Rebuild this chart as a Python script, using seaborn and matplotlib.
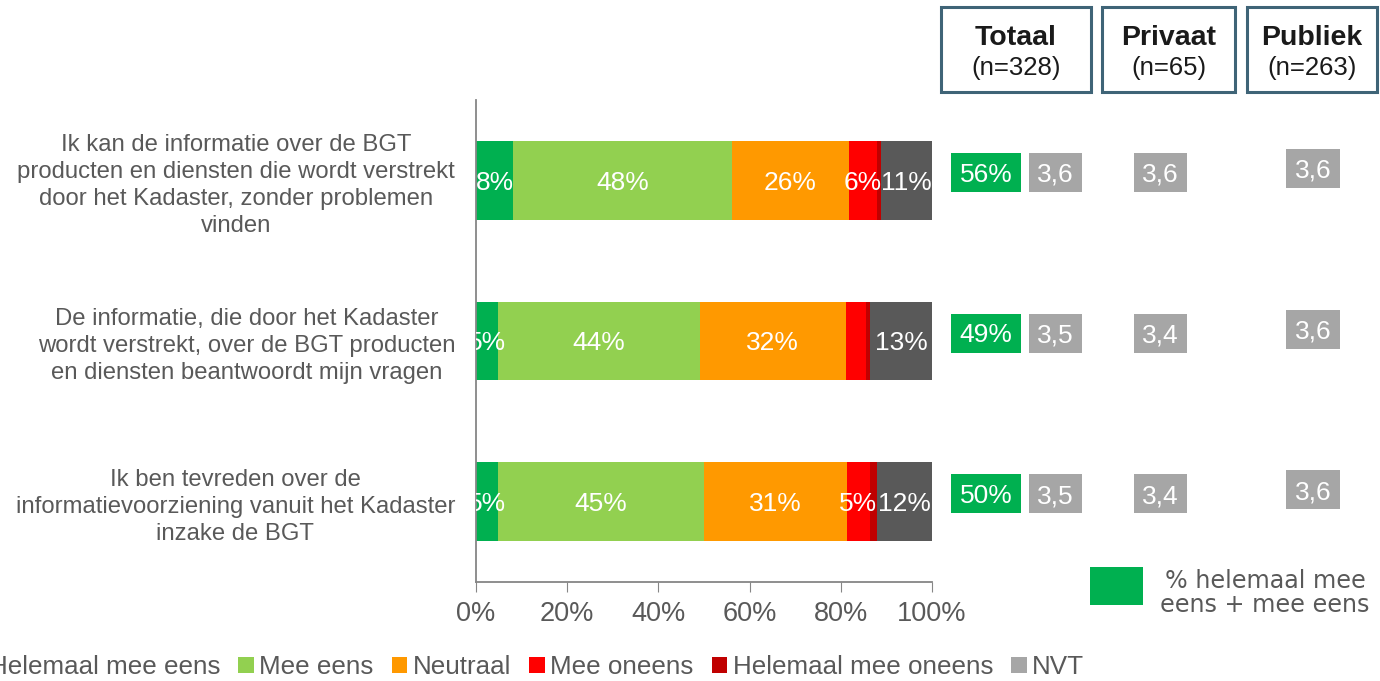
import numpy as np
import seaborn as sns
import matplotlib.pyplot as plt
from matplotlib.patches import Patch, Rectangle
from matplotlib.transforms import blended_transform_factory

# Data.
questions = [
    'Ik kan de informatie over de BGT\nproducten en diensten die wordt verstrekt\n'
    'door het Kadaster, zonder problemen\nvinden',
    'De informatie, die door het Kadaster\nwordt verstrekt, over de BGT producten\n'
    'en diensten beantwoordt mijn vragen',
    'Ik ben tevreden over de\ninformatievoorziening vanuit het Kadaster\ninzake de BGT',
]
segments = ['Helemaal mee eens', 'Mee eens', 'Neutraal', 'Mee oneens',
            'Helemaal mee oneens', 'NVT']
helemaal_mee_eens = [8.2, 4.9, 4.9]
mee_eens = [47.9, 44.2, 45.1]
neutraal = [25.6, 32.0, 31.3]
mee_oneens = [6.3, 4.4, 5.0]
helemaal_mee_oneens = [0.8, 1.0, 1.7]
nvt = [11.2, 13.5, 12.0]
segment_labels = [
    ['8%', '5%', '5%'],
    ['48%', '44%', '45%'],
    ['26%', '32%', '31%'],
    ['6%', '', '5%'],
    ['', '', ''],
    ['11%', '13%', '12%'],
]
pct_agree = [56, 49, 50]
score_totaal = [3.6, 3.5, 3.5]
score_privaat = [3.6, 3.4, 3.4]
score_publiek = [3.6, 3.6, 3.6]
groups = ['Totaal', 'Privaat', 'Publiek']
group_n = [328, 65, 263]

bar_colors = ['#00B050', '#92D050', '#FF9900', '#FF0000', '#C00000', '#595959']
legend_colors = ['#00B050', '#92D050', '#FF9900', '#FF0000', '#C00000', '#A6A6A6']
TEXT = '#595959'
AXIS = '#868686'
W, H = 1380, 681

sns.set_style('white')
plt.rcParams['font.family'] = ['Liberation Sans', 'DejaVu Sans']

fig = plt.figure(figsize=(W / 100, H / 100), dpi=100)
ax = fig.add_axes([476 / W, 1 - 582 / H, 456 / W, 482 / H])

# Stacked bars: draw cumulative totals from the back to the front.
values = np.array([helemaal_mee_eens, mee_eens, neutraal, mee_oneens,
                   helemaal_mee_oneens, nvt])
cum = np.cumsum(values, axis=0)
for i in range(len(segments) - 1, -1, -1):
    sns.barplot(x=cum[i], y=questions, orient='y', color=bar_colors[i],
                saturation=1, width=0.49, linewidth=0, ax=ax)

for i in range(len(segments)):
    for j in range(len(questions)):
        if segment_labels[i][j]:
            ax.text(cum[i][j] - values[i][j] / 2, j, segment_labels[i][j],
                    ha='center', va='center_baseline', color='white',
                    fontsize=19, clip_on=True)

ax.set_xlim(0, 100)
ax.set_ylim(2.5, -0.5)
ax.set_xticks(range(0, 101, 20))
ax.set_xticklabels([f'{v}%' for v in range(0, 101, 20)])
ax.set_xlabel('')
ax.set_ylabel('')
ax.set_yticks(np.arange(-0.5, 3, 1), minor=True)
ax.tick_params(axis='y', which='major', length=0, pad=15, labelsize=17.2,
               labelcolor=TEXT)
ax.tick_params(axis='y', which='minor', length=7, color=AXIS, width=1)
ax.tick_params(axis='x', length=7, color=AXIS, labelsize=19.5,
               labelcolor=TEXT, pad=7, bottom=True)
for lbl in ax.get_yticklabels():
    lbl.set_multialignment('center')
    lbl.set_linespacing(1.3)
for side in ['top', 'right']:
    ax.spines[side].set_visible(False)
for side in ['left', 'bottom']:
    ax.spines[side].set_color(AXIS)
    ax.spines[side].set_linewidth(1.3)

# Score boxes to the right, one row per question.
trans = blended_transform_factory(fig.transFigure, ax.transData)
row_px = 482 / 3
box_h = 39 / row_px
columns = [
    (951, 70, '#00B050', [f'{v}%' for v in pct_agree], 8),
    (1029, 53, '#A6A6A6', [f'{v:.1f}'.replace('.', ',') for v in score_totaal], 8),
    (1134, 53, '#A6A6A6', [f'{v:.1f}'.replace('.', ',') for v in score_privaat], 8),
    (1286, 54, '#A6A6A6', [f'{v:.1f}'.replace('.', ',') for v in score_publiek], 12),
]
for x0, w, col, texts, off in columns:
    for j, t in enumerate(texts):
        yc = j - off / row_px
        ax.add_patch(Rectangle((x0 / W, yc - box_h / 2), w / W, box_h,
                               transform=trans, facecolor=col,
                               edgecolor='none', clip_on=False))
        ax.text((x0 + w / 2) / W, yc, t, transform=trans, ha='center',
                va='center_baseline', color='white', fontsize=19)

# Group headers.
header_boxes = [(941, 150), (1102, 133), (1247, 130)]
for (x0, w), g, n in zip(header_boxes, groups, group_n):
    fig.add_artist(Rectangle((x0 / W, 1 - 92 / H), w / W, 85 / H,
                             transform=fig.transFigure, facecolor='white',
                             edgecolor='#3F6477', linewidth=2.2))
    fig.text((x0 + w / 2) / W, 1 - 35 / H, g, ha='center',
             va='center_baseline', fontsize=20.5, fontweight='bold',
             color='#1A1A1A')
    fig.text((x0 + w / 2) / W, 1 - 66 / H, f'(n={n})', ha='center',
             va='center_baseline', fontsize=18.5, color='#1A1A1A')

# Key for the green boxes.
fig.add_artist(Rectangle((1090 / W, 1 - 605 / H), 53 / W, 38 / H,
                         transform=fig.transFigure, facecolor='#00B050',
                         edgecolor='none'))
fig.text(1265 / W, 1 - 593 / H, '% helemaal mee\neens + mee eens',
         ha='center', va='center', fontsize=17.2, color=TEXT,
         family='DejaVu Sans', linespacing=1.05)

# Bottom legend.
handles = [Patch(facecolor=c, edgecolor='none') for c in legend_colors]
leg = fig.legend(handles, segments, loc='center', ncol=6, frameon=False,
                 bbox_to_anchor=(526 / W, 1 - 667 / H), fontsize=18.75,
                 handlelength=0.6, handleheight=0.6, handletextpad=0.2,
                 columnspacing=0.7)
for t in leg.get_texts():
    t.set_color(TEXT)

fig.savefig('out.png', dpi=100)
